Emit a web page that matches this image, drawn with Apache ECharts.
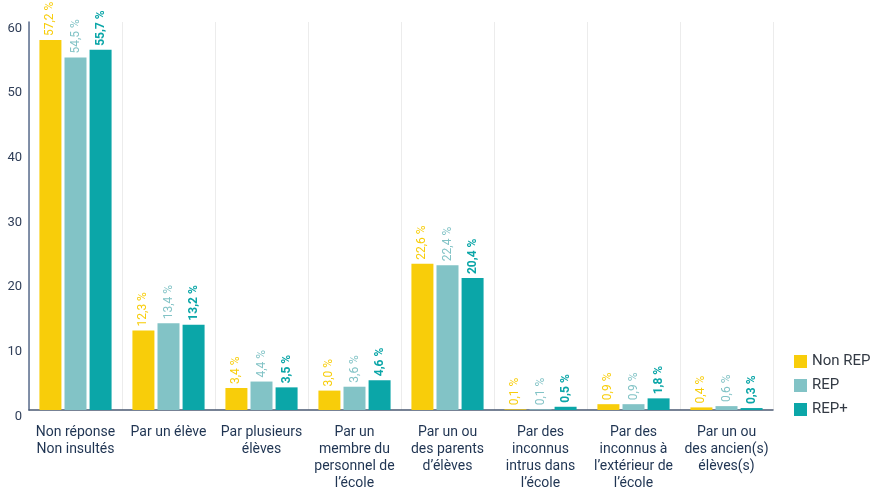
<!DOCTYPE html>
<html><head><meta charset="utf-8">
<script src="https://cdn.jsdelivr.net/npm/echarts@6/dist/echarts.min.js"></script>
<style>html,body{margin:0;padding:0;background:#fff}#c{width:881px;height:492px}</style>
</head><body><div id="c"></div>
<script>
const categories = [
  "Non réponse\nNon insultés",
  "Par un élève",
  "Par plusieurs\nélèves",
  "Par un\nmembre du\npersonnel de\nl’école",
  "Par un ou\ndes parents\nd’élèves",
  "Par des\ninconnus\nintrus dans\nl’école",
  "Par des\ninconnus à\nl’extérieur de\nl’école",
  "Par un ou\ndes ancien(s)\nélèves(s)"
];
const seriesNames = ["Non REP", "REP", "REP+"];
const nonRep = [57.2, 12.3, 3.4, 3.0, 22.6, 0.1, 0.9, 0.4];
const rep = [54.5, 13.4, 4.4, 3.6, 22.4, 0.1, 0.9, 0.6];
const repPlus = [55.7, 13.2, 3.5, 4.6, 20.4, 0.5, 1.8, 0.3];
const yTicks = [0, 10, 20, 30, 40, 50, 60];

const colors = ["#F8CD0A", "#82C3C6", "#0BA6A8"];
const FONT = "'Roboto', sans-serif";
const fmt = v => v.toFixed(1).replace('.', ',') + ' %';

function mk(name, data, i) {
  return {
    name: name, type: 'bar', data: data,
    barWidth: 22, barGap: '14%',
    itemStyle: { color: colors[i] },
    label: {
      show: true, position: 'top', rotate: 90, align: 'left', verticalAlign: 'middle',
      distance: 4,
      color: colors[i], fontFamily: FONT, fontSize: 12,
      fontWeight: i === 2 ? 'bold' : 'normal',
      formatter: p => fmt(p.value)
    }
  };
}

const chart = echarts.init(document.getElementById('c'));
chart.setOption({
  animation: false,
  color: colors,
  legend: {
    orient: 'vertical', left: 789, top: 349,
    itemWidth: 13, itemHeight: 13, itemGap: 9,
    icon: 'rect',
    textStyle: { fontFamily: FONT, fontSize: 15, color: '#333a44' },
    data: seriesNames
  },
  grid: { left: 29, right: 108, top: 22, bottom: 82, containLabel: false },
  xAxis: {
    type: 'category', data: categories,
    axisLine: { lineStyle: { color: '#4b5a73', width: 1.5 } },
    axisTick: { show: false },
    splitLine: { show: true, lineStyle: { color: '#ececec', width: 1 } },
    axisLabel: {
      interval: 0, color: '#1f3452', fontFamily: FONT, fontSize: 14,
      lineHeight: 17, margin: 14
    }
  },
  yAxis: {
    type: 'value', min: 0, max: 60, interval: 10,
    axisLine: { show: true, lineStyle: { color: '#5a6d8c', width: 1.5 } },
    axisTick: { show: false },
    splitLine: { show: false },
    axisLabel: {
      color: '#2f3e58', fontFamily: FONT, fontSize: 13, margin: 7,
      verticalAlign: 'top',
      formatter: v => yTicks.includes(v) ? String(v) : ''
    }
  },
  series: [mk(seriesNames[0], nonRep, 0), mk(seriesNames[1], rep, 1), mk(seriesNames[2], repPlus, 2)]
});
</script></body></html>
